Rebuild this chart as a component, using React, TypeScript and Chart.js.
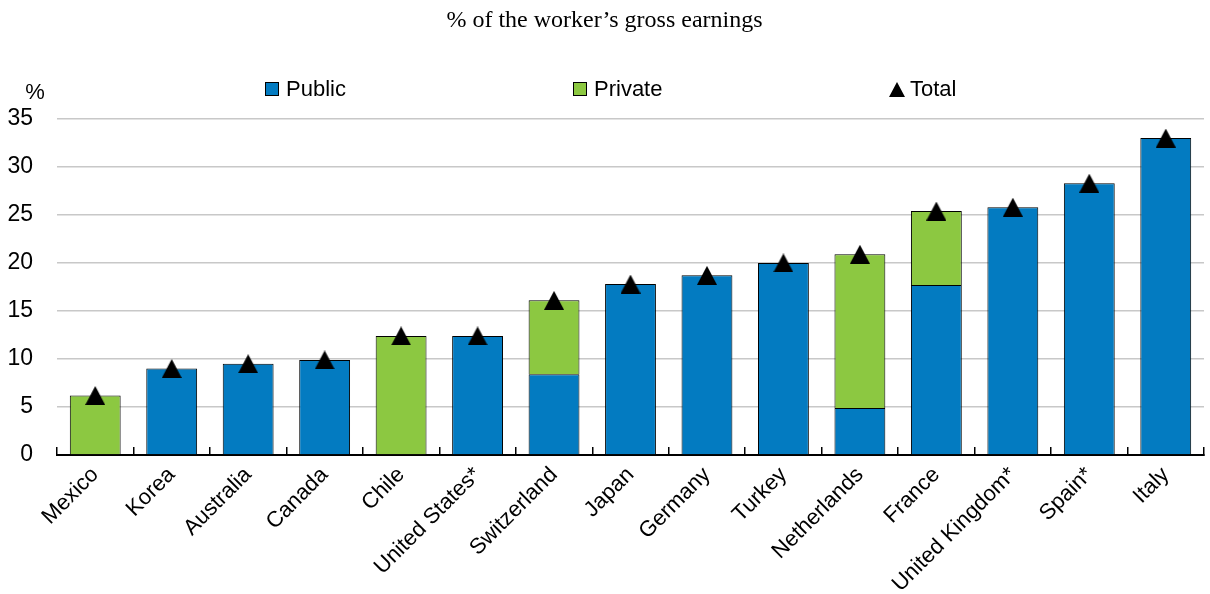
import React, { useEffect, useRef } from "react";
import { Chart, registerables } from "chart.js";

Chart.register(...registerables);

const categories = [
  "Mexico", "Korea", "Australia", "Canada", "Chile", "United States*", "Switzerland",
  "Japan", "Germany", "Turkey", "Netherlands", "France", "United Kingdom*", "Spain*", "Italy",
];
const publicValues = [null, 9.0, 9.5, 9.9, null, 12.4, 8.4, 17.8, 18.7, 20.0, 4.9, 17.7, 25.8, 28.3, 33.0];
const privateValues = [6.2, null, null, null, 12.4, null, 7.7, null, null, null, 16.0, 7.7, null, null, null];
const totalValues = [6.2, 9.0, 9.5, 9.9, 12.4, 12.4, 16.1, 17.8, 18.7, 20.0, 20.9, 25.4, 25.8, 28.3, 33.0];
const yTicks = [0, 5, 10, 15, 20, 25, 30, 35];

const TITLE = "% of the worker\u2019s gross earnings";
const BLUE = "#037BC1";
const GREEN = "#8CC841";
const SANS = '"Liberation Sans Narrow", "Arial Narrow", "Liberation Sans", Arial, sans-serif';
const SERIF = '"Liberation Serif", "Times New Roman", serif';

function makeTriangle(w: number, h: number): HTMLCanvasElement {
  const c = document.createElement("canvas");
  c.width = w;
  c.height = h;
  const ctx = c.getContext("2d")!;
  ctx.fillStyle = "#000";
  ctx.beginPath();
  ctx.moveTo(w / 2, 0);
  ctx.lineTo(w, h);
  ctx.lineTo(0, h);
  ctx.closePath();
  ctx.fill();
  return c;
}

export default function App() {
  const ref = useRef<HTMLCanvasElement | null>(null);

  useEffect(() => {
    document.body.style.margin = "0";
    const canvas = ref.current;
    if (!canvas) return;
    const tri = makeTriangle(20, 19);

    const percentPlugin = {
      id: "percentLabel",
      afterDraw(chart: any) {
        const { ctx, chartArea } = chart;
        ctx.save();
        ctx.font = `22px ${SANS}`;
        ctx.fillStyle = "#000";
        ctx.textAlign = "center";
        ctx.textBaseline = "middle";
        ctx.fillText("%", chartArea.left - 22, chartArea.top - 26);
        ctx.restore();
      },
    };

    const chart = new Chart(canvas, {
      type: "bar",
      data: {
        labels: categories,
        datasets: [
          {
            type: "line",
            label: "Total",
            data: totalValues,
            showLine: false,
            pointStyle: tri as any,
            pointRadius: 5,
            pointHoverRadius: 5,
            order: 0,
            stack: "total",
          } as any,
          {
            label: "Public",
            data: publicValues,
            backgroundColor: BLUE,
            borderColor: "#000",
            borderWidth: 1,
            order: 1,
            stack: "bars",
          },
          {
            label: "Private",
            data: privateValues,
            backgroundColor: GREEN,
            borderColor: "#000",
            borderWidth: 1,
            order: 1,
            stack: "bars",
          },
        ],
      },
      options: {
        animation: false,
        responsive: false,
        devicePixelRatio: 1,
        layout: { padding: { top: 0, left: 0, right: 1, bottom: 0 } },
        datasets: { bar: { barPercentage: 0.665, categoryPercentage: 1 } } as any,
        plugins: {
          legend: { display: false },
          tooltip: { enabled: false },
          title: {
            display: true,
            text: TITLE,
            color: "#000",
            font: { family: SERIF, size: 24, weight: "normal" as any },
            padding: { top: 6, bottom: 84 },
          },
        },
        scales: {
          x: {
            stacked: true,
            offset: true,
            grid: {
              display: true,
              offset: true,
              drawOnChartArea: false,
              drawTicks: true,
              tickLength: -8,
              color: "#000",
              lineWidth: 1.5,
            },
            border: { display: true, color: "#000", width: 2 },
            ticks: {
              color: "#000",
              font: { family: SANS, size: 22 },
              minRotation: 45,
              maxRotation: 45,
              padding: 15,
              autoSkip: false,
            },
            afterFit(scale: any) {
              scale.height = 139;
            },
          },
          y: {
            stacked: true,
            min: 0,
            max: 35,
            afterBuildTicks(scale: any) {
              scale.ticks = yTicks.map((v) => ({ value: v }));
            },
            grid: { color: "#C8C8C8", lineWidth: 1.5, drawTicks: false },
            border: { display: false },
            ticks: {
              color: "#000",
              font: { family: SANS, size: 23 },
              padding: 24,
            },
            afterFit(scale: any) {
              scale.width = 57;
            },
          },
        },
      },
      plugins: [percentPlugin],
    });
    return () => chart.destroy();
  }, []);

  const legendText: React.CSSProperties = {
    fontFamily: SANS,
    fontSize: 22,
    color: "#000",
    lineHeight: "24px",
  };
  const box = (color: string): React.CSSProperties => ({
    width: 12,
    height: 12,
    background: color,
    border: "1px solid #000",
    marginRight: 7,
  });

  return (
    <div style={{ position: "relative", width: 1210, height: 594, background: "#fff" }}>
      <canvas ref={ref} width={1210} height={594} style={{ display: "block" }} />
      <div style={{ position: "absolute", left: 265, top: 77, display: "flex", alignItems: "center" }}>
        <div style={box(BLUE)} />
        <span style={legendText}>Public</span>
      </div>
      <div style={{ position: "absolute", left: 573, top: 77, display: "flex", alignItems: "center" }}>
        <div style={box(GREEN)} />
        <span style={legendText}>Private</span>
      </div>
      <div style={{ position: "absolute", left: 889, top: 77, display: "flex", alignItems: "center" }}>
        <div
          style={{
            width: 0,
            height: 0,
            borderLeft: "8px solid transparent",
            borderRight: "8px solid transparent",
            borderBottom: "15px solid #000",
            marginRight: 5,
          }}
        />
        <span style={legendText}>Total</span>
      </div>
    </div>
  );
}
